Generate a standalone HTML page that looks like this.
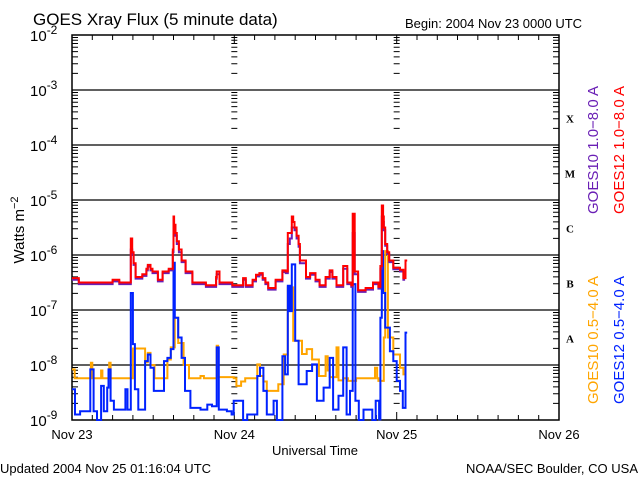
<!DOCTYPE html>
<html><head><meta charset="utf-8"><style>
body{margin:0;background:#fff;width:640px;height:480px;overflow:hidden}
svg{display:block;font-family:"Liberation Sans",sans-serif}
</style></head><body>
<svg id="c" width="640" height="480">
<text x="33" y="25" font-size="17">GOES Xray Flux (5 minute data)</text>
<text x="405" y="28" font-size="13">Begin:  2004 Nov 23 0000 UTC</text>
<text x="0" y="473" font-size="13">Updated 2004 Nov 25 01:16:04 UTC</text>
<text x="638" y="473" font-size="13" text-anchor="end">NOAA/SEC Boulder, CO USA</text>
<text x="315" y="455" font-size="13" text-anchor="middle">Universal Time</text>
<text transform="translate(24,230) rotate(-90)" font-size="15" text-anchor="middle">Watts m<tspan dy="-6" font-size="11">−2</tspan></text>
<g id="axes"></g>
<g id="series"></g>
</svg>
<script>
const xTickLabels=["Nov 23","Nov 24","Nov 25","Nov 26"];
const yExps=[-2,-3,-4,-5,-6,-7,-8,-9];
const classLabels=["X","M","C","B","A"];
const redT=[0,1,3,5,6,7,8.6,8.7,8.9,9.1,9.4,10.4,11.0,11.2,11.6,11.9,12.7,13.4,14.3,14.9,15.0,15.1,15.3,15.5,15.8,16.2,16.8,17.8,19.8,21.3,21.4,21.8,23.7,24.7,25.3,25.7,26.7,27.2,27.7,28.2,28.6,29.0,30.1,31.1,31.6,31.9,32.2,32.5,32.7,32.9,33.2,33.5,33.7,34.6,35.2,36.0,36.6,37.5,38.1,38.5,39.1,40.1,40.7,41.3,41.5,41.8,42.3,43.4,44.5,45.3,45.6,45.8,46.0,46.1,46.3,46.6,46.9,47.5,48.5,49.0,49.3];
const redV=[-6.42,-6.5,-6.5,-6.5,-6.45,-6.5,-6.5,-5.7,-5.95,-6.15,-6.4,-6.35,-6.25,-6.18,-6.25,-6.3,-6.45,-6.3,-6.25,-5.9,-5.3,-5.45,-5.6,-5.75,-5.9,-6.1,-6.3,-6.5,-6.55,-6.4,-6.3,-6.5,-6.55,-6.55,-6.42,-6.55,-6.45,-6.36,-6.33,-6.42,-6.5,-6.6,-6.45,-6.28,-6.3,-5.6,-5.6,-5.3,-5.4,-5.5,-5.65,-5.8,-6.1,-6.4,-6.33,-6.45,-6.55,-6.4,-6.28,-6.4,-6.55,-6.2,-6.5,-6.55,-5.25,-6.3,-6.64,-6.6,-6.5,-6.58,-6.2,-5.1,-5.3,-5.5,-5.8,-5.95,-6.1,-6.23,-6.27,-6.42,-6.1];
const purT=[0,1,3,5,6,7,8.6,8.7,8.9,9.1,9.4,10.4,11.0,11.2,11.6,11.9,12.7,13.4,14.3,14.9,15.0,15.1,15.3,15.5,15.8,16.2,16.8,17.8,19.8,21.3,21.4,21.8,23.7,24.7,25.3,25.7,26.7,27.2,27.7,28.2,28.6,29.0,30.1,31.1,31.6,31.9,32.2,32.5,32.7,32.9,33.2,33.5,33.7,34.6,35.2,36.0,36.6,37.5,38.1,38.5,39.1,40.1,40.7,41.3,41.5,41.8,42.3,43.4,44.5,45.3,45.6,45.8,46.0,46.1,46.3,46.6,46.9,47.5,48.5,49.0];
const purV=[-6.45,-6.53,-6.53,-6.53,-6.48,-6.53,-6.53,-5.9,-6.0,-6.18,-6.43,-6.38,-6.28,-6.21,-6.28,-6.33,-6.48,-6.33,-6.28,-5.95,-5.5,-5.5,-5.65,-5.8,-5.95,-6.13,-6.33,-6.53,-6.58,-6.43,-6.35,-6.53,-6.58,-6.58,-6.45,-6.58,-6.48,-6.39,-6.36,-6.45,-6.53,-6.63,-6.48,-6.31,-6.33,-5.8,-5.7,-5.5,-5.5,-5.55,-5.7,-5.85,-6.15,-6.43,-6.36,-6.48,-6.58,-6.43,-6.31,-6.43,-6.58,-6.25,-6.53,-6.58,-5.6,-6.35,-6.67,-6.63,-6.53,-6.61,-6.25,-5.3,-5.4,-5.55,-5.83,-5.98,-6.13,-6.26,-6.3,-6.45];
const bluT=[0,0.45,1.2,2.4,2.7,3.2,3.7,4.3,4.7,5.2,5.4,5.7,6.2,7.9,8.2,8.6,8.7,9.0,9.3,9.8,10.3,10.8,11.2,11.6,12.1,13.1,13.6,14.1,14.6,15.0,15.2,15.7,16.2,16.7,17.5,19.0,20.0,20.7,21.4,21.7,22.9,23.6,23.9,25.3,25.9,27.4,27.8,28.3,28.8,29.8,30.3,31.1,31.5,31.9,32.2,32.5,33.0,33.5,34.7,35.5,36.2,37.2,38.1,38.6,39.4,40.1,40.6,41.1,41.5,41.9,42.4,43.1,44.4,44.9,45.4,45.6,45.8,46.0,46.3,47.0,47.5,48.0,48.5,48.9,49.3];
const bluV=[-8.44,-8.9,-8.84,-8.84,-8.08,-8.84,-9.0,-8.38,-8.84,-8.41,-8.08,-8.65,-8.81,-8.44,-8.81,-8.81,-6.69,-7.62,-8.44,-8.81,-8.81,-7.93,-7.81,-8.05,-8.47,-8.47,-7.93,-7.87,-7.71,-6.14,-7.14,-7.5,-7.87,-8.47,-8.78,-8.81,-8.72,-8.75,-7.68,-8.81,-8.84,-8.9,-8.65,-9.0,-8.9,-8.2,-8.05,-8.47,-8.9,-8.65,-9.0,-7.84,-8.17,-6.56,-7.02,-6.17,-7.56,-8.35,-8.11,-7.99,-8.65,-8.41,-7.87,-8.81,-8.56,-7.68,-8.9,-8.47,-6.53,-8.65,-9.0,-8.81,-9.0,-8.65,-8.99,-7.14,-5.93,-6.69,-7.32,-7.75,-7.93,-8.29,-8.47,-8.78,-7.41];
const orgT=[0,0.4,2.6,2.8,3.0,4.3,4.5,5.5,5.7,8.6,9.0,10.8,11.2,11.6,12.2,14.1,14.6,15.2,15.7,16.5,17.3,19.0,19.5,21.4,21.6,23.9,24.3,25.0,25.6,27.4,27.8,28.3,28.8,30.5,31.3,31.9,32.7,33.5,34.0,34.7,35.5,36.5,37.5,37.8,38.1,39.1,39.4,40.1,40.8,42.0,44.8,45.1,45.3,46.1,46.3,46.7,47.5,48.5,49.0];
const orgV=[-8.08,-8.24,-8.24,-7.96,-8.24,-8.1,-8.24,-7.96,-8.24,-8.24,-7.7,-7.95,-7.78,-8.0,-8.24,-7.9,-7.68,-7.14,-7.6,-8.0,-8.24,-8.2,-8.24,-7.65,-8.22,-8.24,-8.38,-8.3,-8.24,-7.99,-8.2,-8.3,-8.47,-8.35,-7.81,-6.59,-7.56,-7.56,-7.8,-7.71,-7.9,-8.2,-7.84,-8.1,-8.22,-7.68,-8.28,-8.24,-8.29,-8.24,-8.05,-8.24,-8.29,-7.5,-5.93,-7.5,-7.81,-8.05,-8.17];
const X0=72,X1=559,Y0=35,DEC=55;
function xs(h){return X0+h/72*(X1-X0);}
function ys(l){return Y0+(-2-l)*DEC;}
const NS="http://www.w3.org/2000/svg";
function mk(tag,attrs,parent){const e=document.createElementNS(NS,tag);for(const k in attrs)e.setAttribute(k,attrs[k]);parent.appendChild(e);return e;}
const ax=document.getElementById('axes');
let d="";
for(let e=-9;e<-2;e++){for(let m=2;m<=9;m++){const y=ys(e+Math.log10(m)).toFixed(1);
 d+=`M${X0} ${y}h6M${X1} ${y}h-6`;
 for(let k=1;k<3;k++){const x=xs(k*24);d+=`M${x-3} ${y}h6`;}}}
for(let h=3;h<72;h+=3){const x=xs(h).toFixed(1);const L=h%24==0?8:5;d+=`M${x} ${Y0}v${L}M${x} 420v-${L}`;}
const tk=mk('path',{d:d,stroke:'#000','stroke-width':1,fill:'none'},ax);


yExps.forEach((e,i)=>{const y=ys(e);
 if(e>-9&&e<-2){const g=mk('line',{x1:X0,x2:X1,y1:y,y2:y,stroke:'#000','stroke-width':1.3},ax);
 
 }
 const t=mk('text',{x:30,y:y+6,'font-size':15},ax);
 
 
 t.innerHTML=`10<tspan dy="-7" font-size="12">${e}</tspan>`;});
xTickLabels.forEach((s,i)=>{const t=mk('text',{x:xs(i*24),y:439,'font-size':13,'text-anchor':'middle'},ax);t.textContent=s;
 
 });
classLabels.forEach((s,i)=>{const t=mk('text',{x:570,y:ys(-3.5-i)+5,'font-size':11,'font-weight':'bold','font-family':'Liberation Serif,serif','text-anchor':'middle'},ax);t.textContent=s;
 
 });
const fr=mk('rect',{x:X0,y:Y0,width:X1-X0,height:385,fill:'none',stroke:'#000','stroke-width':1.5},ax);


const legends=[["GOES10 1.0−8.0 A","#6a1fb5",598,150],["GOES12 1.0−8.0 A","#ff0000",624,150],["GOES10 0.5−4.0 A","#ffa500",598,340],["GOES12 0.5−4.0 A","#0022ff",624,340]];
legends.forEach(l=>{const t=mk('text',{transform:`translate(${l[2]},${l[3]}) rotate(-90)`,'font-size':15,fill:l[1],'text-anchor':'middle'},ax);t.textContent=l[0];
 
 });
const sg=document.getElementById('series');
function step(T,V,color,name){let p="";for(let i=0;i<T.length;i++){const x=xs(T[i]).toFixed(1),y=Math.min(420,ys(V[i])).toFixed(1);p+=(i?`H${x}V${y}`:`M${x} ${y}`);}
 p+=`H${xs(T[T.length-1]+0.25).toFixed(1)}`;
 const e=mk('path',{d:p,stroke:color,'stroke-width':2,fill:'none'},sg);
 
 }
step(orgT,orgV,'#ffa500','series-goes10-short');
step(bluT,bluV,'#0022ff','series-goes12-short');
step(purT,purV,'#6a1fb5','series-goes10-long');
step(redT,redV,'#ff0000','series-goes12-long');
</script>
</body></html>
